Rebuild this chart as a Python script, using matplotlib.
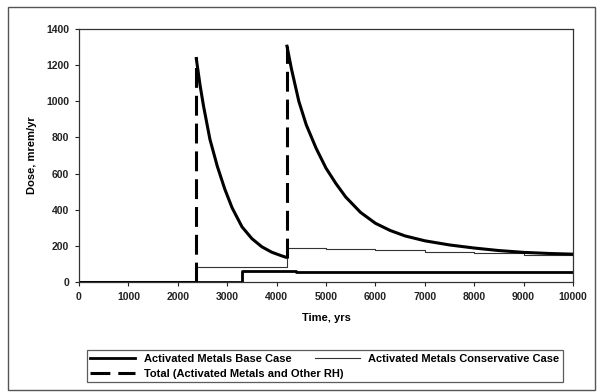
import numpy as np
import matplotlib
matplotlib.use('Agg')
import matplotlib.pyplot as plt
from matplotlib.patches import Rectangle

plt.rcParams['font.family'] = ['Liberation Sans', 'DejaVu Sans']

# Total (Activated Metals and Other RH)
t_total = [0, 2370, 2370, 2450, 2520, 2650, 2800, 2950, 3100, 3300, 3500, 3700, 3900, 4100, 4210,
           4210, 4300, 4450, 4600, 4800, 5000, 5200, 5400, 5700, 6000, 6300, 6600, 7000, 7500,
           8000, 8500, 9000, 9500, 10000]
v_total = [0, 0, 1245, 1090, 975, 790, 640, 515, 410, 305, 240, 195, 165, 145, 135,
           1305, 1180, 1000, 870, 740, 630, 545, 470, 385, 325, 285, 255, 228, 205,
           188, 174, 164, 158, 154]

# Activated Metals Conservative Case
t_cons = [0, 2370, 4210, 5000, 5500, 6000, 7000, 8000, 9000, 10000]
v_cons = [0, 85, 190, 185, 180, 175, 168, 160, 152, 145]

# Activated Metals Base Case
t_base = [0, 3300, 4400, 10000]
v_base = [0, 63, 55, 55]

fig = plt.figure(figsize=(5.99, 3.92), dpi=100)
ax = fig.add_axes([79/599, 1-282/392, (573-79)/599, (282-29)/392])

ax.plot(t_cons, v_cons, color='#333333', lw=0.8, drawstyle='steps-post')
ax.plot(t_base, v_base, color='black', lw=2.0, drawstyle='steps-post')

# total: jumps drawn dashed, decay parts solid
t_total = np.array(t_total)
v_total = np.array(v_total)
jumps = [i for i in range(len(t_total)-1) if t_total[i] == t_total[i+1]]
start = 0
for j in jumps:
    ax.plot(t_total[start:j+1], v_total[start:j+1], color='black', lw=2.2, solid_capstyle='butt')
    ax.plot(t_total[j:j+2], v_total[j:j+2], color='black', lw=2.2, dashes=(6.5, 2.6))
    start = j+1
ax.plot(t_total[start:], v_total[start:], color='black', lw=2.2)

ax.set_xlim(0, 10000)
ax.set_ylim(0, 1400)
ax.set_xticks(range(0, 10001, 1000))
ax.set_yticks(range(0, 1401, 200))
ax.tick_params(direction='out', length=3, width=0.8, labelsize=7.5, pad=4, colors='#222222')
for lab in ax.get_xticklabels() + ax.get_yticklabels():
    lab.set_fontweight('bold')
for s in ax.spines.values():
    s.set_color('#333333')
    s.set_linewidth(0.9)

ax.set_xlabel('Time, yrs', fontsize=8, fontweight='bold', labelpad=8)
ax.set_ylabel('Dose, mrem/yr', fontsize=8, fontweight='bold', labelpad=7)

h_base, = ax.plot([], [], color='black', lw=2.0)
h_cons, = ax.plot([], [], color='#333333', lw=0.8)
h_tot, = ax.plot([], [], color='black', lw=2.2, dashes=(6.5, 2.6))
leg = fig.legend([h_base, h_tot, h_cons],
                 ['Activated Metals Base Case', 'Total (Activated Metals and Other RH)',
                  'Activated Metals Conservative Case'],
                 ncol=2, loc='lower left', mode='expand',
                 bbox_to_anchor=(81/599, 1-388/392, (569-81)/599, 43/392),
                 fontsize=8, frameon=True, fancybox=False, handlelength=4,
                 borderpad=0.35, labelspacing=0.45, columnspacing=5)
leg.get_frame().set_edgecolor('#333333')
leg.get_frame().set_linewidth(0.9)
for txt in leg.get_texts():
    txt.set_fontweight('bold')

fig.patches.append(Rectangle((8/599, 2/392), 587/599, 383/392, transform=fig.transFigure,
                             fill=False, edgecolor='#555555', lw=1.0))

fig.savefig('out.png', dpi=100)
